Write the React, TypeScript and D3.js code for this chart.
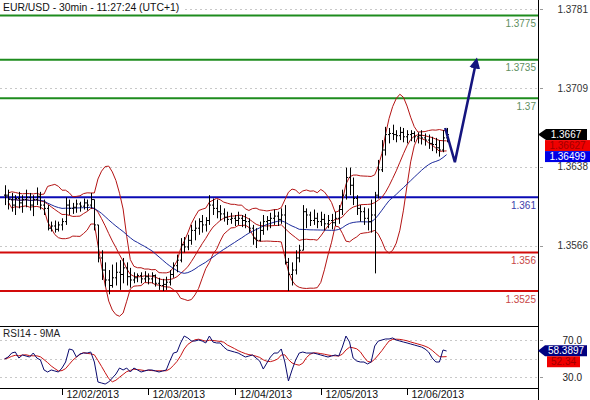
import React from 'react';
import * as d3 from 'd3';

// ---------- data ----------
const highs = [
  1.3621, 1.3617, 1.3614, 1.3612, 1.3615, 1.3612, 1.3617, 1.3614, 1.3612, 1.3619,
  1.3615, 1.3608, 1.3603, 1.3588, 1.3589, 1.3588, 1.3591, 1.3610, 1.3608, 1.3605,
  1.3608, 1.3606, 1.3609, 1.3608, 1.3614, 1.3608, 1.3585, 1.3562, 1.3551, 1.3544,
  1.3549, 1.3551, 1.3553, 1.3555, 1.3551, 1.3546, 1.3542, 1.3541, 1.3542, 1.3543,
  1.3541, 1.3542, 1.3540, 1.3537, 1.3536, 1.3538, 1.3544, 1.3551, 1.3558, 1.3573,
  1.3574, 1.3576, 1.3585, 1.3589, 1.3591, 1.3594, 1.3592, 1.3612, 1.3609, 1.3608,
  1.3603, 1.3600, 1.3597, 1.3596, 1.3594, 1.3597, 1.3594, 1.3595, 1.3591, 1.3585,
  1.3582, 1.3588, 1.3594, 1.3593, 1.3596, 1.3599, 1.3597, 1.3600, 1.3603, 1.3555,
  1.3551, 1.3562, 1.3567, 1.3603, 1.3600, 1.3597, 1.3599, 1.3596, 1.3597, 1.3595,
  1.3594, 1.3595, 1.3597, 1.3603, 1.3617, 1.3637, 1.3637, 1.3628, 1.3612, 1.3603,
  1.3601, 1.3600, 1.3608, 1.3615, 1.3644, 1.3662, 1.3674, 1.3673, 1.3676, 1.3671,
  1.3674, 1.3673, 1.3671, 1.3671, 1.3670, 1.3669, 1.3671, 1.3668, 1.3667, 1.3665,
  1.3664, 1.3662, 1.3671, 1.3673,
];
const lows = [
  1.3603, 1.3599, 1.3597, 1.3594, 1.3600, 1.3596, 1.3601, 1.3598, 1.3593, 1.3603,
  1.3599, 1.3594, 1.3580, 1.3579, 1.3578, 1.3579, 1.3580, 1.3585, 1.3594, 1.3595,
  1.3596, 1.3597, 1.3599, 1.3598, 1.3600, 1.3580, 1.3551, 1.3535, 1.3529, 1.3522,
  1.3528, 1.3530, 1.3526, 1.3532, 1.3530, 1.3528, 1.3532, 1.3533, 1.3532, 1.3533,
  1.3531, 1.3532, 1.3529, 1.3526, 1.3525, 1.3526, 1.3530, 1.3537, 1.3542, 1.3551,
  1.3560, 1.3562, 1.3567, 1.3571, 1.3576, 1.3578, 1.3579, 1.3585, 1.3594, 1.3591,
  1.3589, 1.3588, 1.3585, 1.3586, 1.3584, 1.3585, 1.3583, 1.3582, 1.3578, 1.3567,
  1.3564, 1.3570, 1.3576, 1.3580, 1.3582, 1.3585, 1.3584, 1.3586, 1.3549, 1.3525,
  1.3530, 1.3540, 1.3551, 1.3562, 1.3582, 1.3584, 1.3585, 1.3582, 1.3584, 1.3580,
  1.3582, 1.3581, 1.3584, 1.3586, 1.3594, 1.3608, 1.3612, 1.3603, 1.3594, 1.3588,
  1.3585, 1.3580, 1.3578, 1.3541, 1.3609, 1.3633, 1.3648, 1.3659, 1.3662, 1.3660,
  1.3662, 1.3660, 1.3659, 1.3661, 1.3660, 1.3659, 1.3658, 1.3657, 1.3654, 1.3652,
  1.3650, 1.3647, 1.3651, 1.3660,
];
const closes = [
  1.3612, 1.3608, 1.3603, 1.3609, 1.3605, 1.3608, 1.3610, 1.3603, 1.3608, 1.3611,
  1.3603, 1.3600, 1.3582, 1.3584, 1.3581, 1.3585, 1.3588, 1.3603, 1.3600, 1.3601,
  1.3604, 1.3602, 1.3605, 1.3603, 1.3608, 1.3585, 1.3555, 1.3544, 1.3535, 1.3530,
  1.3537, 1.3542, 1.3540, 1.3546, 1.3538, 1.3535, 1.3537, 1.3539, 1.3536, 1.3538,
  1.3536, 1.3539, 1.3532, 1.3530, 1.3531, 1.3533, 1.3540, 1.3548, 1.3553, 1.3567,
  1.3565, 1.3571, 1.3580, 1.3582, 1.3588, 1.3585, 1.3589, 1.3603, 1.3600, 1.3597,
  1.3595, 1.3592, 1.3590, 1.3591, 1.3589, 1.3591, 1.3589, 1.3588, 1.3582, 1.3573,
  1.3571, 1.3580, 1.3588, 1.3589, 1.3591, 1.3593, 1.3590, 1.3594, 1.3551, 1.3540,
  1.3544, 1.3555, 1.3562, 1.3597, 1.3594, 1.3589, 1.3591, 1.3588, 1.3590, 1.3586,
  1.3589, 1.3587, 1.3591, 1.3599, 1.3612, 1.3628, 1.3621, 1.3609, 1.3600, 1.3597,
  1.3591, 1.3588, 1.3594, 1.3612, 1.3635, 1.3653, 1.3667, 1.3668, 1.3667, 1.3666,
  1.3669, 1.3665, 1.3667, 1.3668, 1.3665, 1.3666, 1.3664, 1.3662, 1.3659, 1.3658,
  1.3655, 1.3653, 1.3664, 1.3667,
];

// RSI(14) values read per bar
const rsiValues = [
  49.5, 51.6, 55.9, 57.0, 50.5, 53.8, 52.7, 51.6, 55.9, 50.5,
  48.4, 37.6, 35.4, 37.6, 36.5, 35.4, 39.7, 46.2, 60.3, 59.2,
  51.6, 54.9, 55.9, 55.9, 57.0, 46.2, 24.6, 23.5, 22.4, 24.6,
  28.9, 33.2, 39.7, 37.6, 39.7, 35.4, 39.7, 37.6, 35.4, 36.5,
  37.6, 37.6, 36.5, 35.4, 36.5, 37.6, 47.3, 55.9, 57.0, 66.8,
  74.3, 72.2, 68.9, 68.9, 70.0, 68.9, 66.8, 74.3, 67.8, 66.8,
  66.8, 62.4, 59.2, 58.1, 57.0, 55.9, 53.8, 51.6, 52.7, 53.8,
  50.5, 47.3, 38.6, 45.1, 51.6, 55.9, 55.9, 60.3, 46.2, 25.7,
  37.6, 48.4, 55.9, 57.0, 55.9, 55.9, 55.9, 54.9, 53.8, 52.7,
  51.6, 52.7, 53.8, 52.7, 62.4, 74.3, 67.8, 50.5, 47.3, 46.2,
  46.2, 44.1, 46.2, 63.5, 68.9, 70.0, 71.1, 71.1, 72.2, 70.0,
  68.9, 67.8, 66.8, 65.7, 64.6, 63.5, 62.4, 60.3, 57.0, 50.5,
  46.2, 46.2, 59.2, 58.1,
];

const dayLabels = ['12/02/2013', '12/03/2013', '12/04/2013', '12/05/2013', '12/06/2013'];
const dayStartIndex = [16, 40, 64, 88, 112];

const priceTicks = [1.3781, 1.3709, 1.3638, 1.3566];
const priceTickLabels = ['1.3781', '1.3709', '1.3638', '1.3566'];

const levelValues = [1.3775, 1.3735, 1.37, 1.361, 1.356, 1.3525];
const levelLabels = ['1.3775', '1.3735', '1.37', '1.361', '1.356', '1.3525'];
const levelKinds = ['res', 'res', 'res', 'pivot', 'sup', 'sup'];

// projected path: [bar index, price]
const projectionIndex = [122.6, 125.3, 131.2];
const projectionPrice = [1.3673, 1.3642, 1.3733];

const rsiTicks = [70, 30];
const rsiTickLabels = ['70.0', '30.0'];
const rsiGrid = [70, 50, 30];

const title = 'EUR/USD - 30min - 11:27:24 (UTC+1)';
const rsiTitle = 'RSI14 - 9MA';
const lastPrice = 1.3667;
const lastPriceText = '1.3667';
const bbMidText = '1.36627';
const maText = '1.36499';
const rsiValue = 58.3897;
const rsiText = '58.3897';
const rsiMaText = '52.34';

// ---------- indicators ----------
function sma(arr: number[], n: number): number[] {
  return arr.map((_, i) => d3.mean(arr.slice(Math.max(0, i - n + 1), i + 1)) as number);
}
function bollinger(arr: number[], n: number, k: number) {
  const mid: number[] = [], up: number[] = [], lo: number[] = [];
  arr.forEach((_, i) => {
    const s = arr.slice(Math.max(0, i - n + 1), i + 1);
    const m = d3.mean(s) as number;
    const sd = Math.sqrt(d3.mean(s.map((v) => (v - m) * (v - m))) as number);
    mid.push(m); up.push(m + k * sd); lo.push(m - k * sd);
  });
  return { mid, up, lo };
}

const FONT = '"Liberation Sans", Arial, sans-serif';
const AXIS_X = 538;

export default function App() {
  const x = d3.scaleLinear().domain([0, 123]).range([4.5, 446.6]);
  const y = d3.scaleLinear().domain([1.3781, 1.3525]).range([9, 291]);
  const yr = d3.scaleLinear().domain([70, 30]).range([340, 377]);

  const bb = bollinger(closes, 10, 2);
  const ma = sma(closes, 25);
  const rsiMa = sma(rsiValues, 5);

  const idx = closes.map((_, i) => i);
  const lineP = (vals: number[], from = 0) =>
    d3.line<number>().x((i) => x(i)).y((i) => y(vals[i]))(idx.slice(from)) as string;
  const lineR = (vals: number[]) =>
    d3.line<number>().x((i) => x(i)).y((i) => yr(vals[i]))(idx) as string;
  const projPath = d3
    .line<number>()
    .x((j) => x(projectionIndex[j]))
    .y((j) => y(projectionPrice[j]))(projectionIndex.map((_, j) => j)) as string;

  const levelColor: Record<string, string> = { res: '#1e8c1e', pivot: '#0a0ab4', sup: '#d20a0a' };
  const levelTextColor: Record<string, string> = { res: '#5f8f5f', pivot: '#3c3caa', sup: '#c84646' };

  const yl = y(lastPrice);
  const yrv = yr(rsiValue);

  return (
    <svg
      width={590}
      height={400}
      style={{ position: 'absolute', left: 0, top: 0, background: '#fff' }}
      fontFamily={FONT}
    >
      <defs>
        <clipPath id="mainClip">
          <rect x={0} y={0} width={AXIS_X} height={326} />
        </clipPath>
        <clipPath id="rsiClip">
          <rect x={0} y={327} width={AXIS_X} height={61} />
        </clipPath>
        <marker id="arrowHead" viewBox="0 0 10 10" refX={6} refY={5} markerWidth={4.4} markerHeight={5.6} orient="auto">
          <path d="M0,0L10,5L0,10z" fill="#15157f" />
        </marker>
      </defs>
      <rect x={0} y={0} width={590} height={400} fill="#fff" />

      {/* price grid */}
      {priceTicks.map((t, i) => (
        <g key={'pt' + i}>
          <line x1={0} x2={AXIS_X} y1={Math.round(y(t)) + 0.5} y2={Math.round(y(t)) + 0.5} stroke="#c8c8c8" strokeDasharray="2,3" />
          <line x1={AXIS_X + 2} x2={AXIS_X + 5} y1={Math.round(y(t)) + 0.5} y2={Math.round(y(t)) + 0.5} stroke="#999" />
          <text x={588} y={y(t) + 3.5} fontSize={10} textAnchor="end" fill="#333">{priceTickLabels[i]}</text>
        </g>
      ))}

      {/* title */}
      <rect x={0} y={0} width={183} height={13} fill="#fff" />
      <text x={3} y={11} fontSize={10.4} fill="#111">{title}</text>

      {/* levels */}
      {levelValues.map((v, i) => (
        <g key={'lv' + i}>
          <line x1={0} x2={AXIS_X} y1={y(v)} y2={y(v)} stroke={levelColor[levelKinds[i]]} strokeWidth={2} />
          <text x={536} y={y(v) + 11.5} fontSize={10} textAnchor="end" fill={levelTextColor[levelKinds[i]]}>{levelLabels[i]}</text>
        </g>
      ))}

      <g clipPath="url(#mainClip)">
        {/* Bollinger bands */}
        <path d={lineP(bb.up, 1)} fill="none" stroke="#b41414" strokeWidth={1} />
        <path d={lineP(bb.mid)} fill="none" stroke="#b41414" strokeWidth={1} />
        <path d={lineP(bb.lo, 1)} fill="none" stroke="#b41414" strokeWidth={1} />
        {/* moving average */}
        <path d={lineP(ma)} fill="none" stroke="#1c2a9c" strokeWidth={1} />

        {/* OHLC bars */}
        {closes.map((c, i) => {
          const xi = Math.round(x(i)) + 0.5;
          const o = i === 0 ? c : closes[i - 1];
          return (
            <g key={'b' + i} stroke="#000" strokeWidth={1}>
              <line x1={xi} x2={xi} y1={y(highs[i])} y2={y(lows[i])} />
              <line x1={xi - 1.5} x2={xi} y1={y(o)} y2={y(o)} />
              <line x1={xi} x2={xi + 1.5} y1={y(c)} y2={y(c)} />
            </g>
          );
        })}

        {/* projection arrow */}
        <path d={projPath} fill="none" stroke="#15157f" strokeWidth={2.5} strokeLinejoin="miter" markerEnd="url(#arrowHead)" />
      </g>

      {/* panel borders */}
      <line x1={0} x2={AXIS_X} y1={326.5} y2={326.5} stroke="#000" />
      <line x1={0} x2={AXIS_X} y1={388.5} y2={388.5} stroke="#000" />
      <line x1={AXIS_X + 0.5} x2={AXIS_X + 0.5} y1={0} y2={400} stroke="#000" />

      {/* RSI panel */}
      {rsiGrid.map((t, i) => (
        <line key={'rg' + i} x1={0} x2={AXIS_X} y1={Math.round(yr(t)) + 0.5} y2={Math.round(yr(t)) + 0.5} stroke="#c8c8c8" strokeDasharray="2,3" />
      ))}
      {rsiTicks.map((t, i) => (
        <g key={'rt' + i}>
          <line x1={AXIS_X + 2} x2={AXIS_X + 5} y1={Math.round(yr(t)) + 0.5} y2={Math.round(yr(t)) + 0.5} stroke="#999" />
          <text x={582} y={yr(t) + 3.5} fontSize={10} textAnchor="end" fill="#222">{rsiTickLabels[i]}</text>
        </g>
      ))}
      <g clipPath="url(#rsiClip)">
        <path d={lineR(rsiMa)} fill="none" stroke="#c81414" strokeWidth={1} />
        <path d={lineR(rsiValues)} fill="none" stroke="#0a0a6e" strokeWidth={1} />
      </g>
      <text x={3} y={337} fontSize={10} fill="#222">{rsiTitle}</text>

      {/* date axis */}
      {dayStartIndex.map((d, i) => {
        const xi = Math.round(x(d)) + 0.5;
        return (
          <g key={'d' + i}>
            <line x1={xi} x2={xi} y1={388} y2={395} stroke="#000" />
            <text x={xi + 4} y={397.5} fontSize={10.5} fill="#111">{dayLabels[i]}</text>
          </g>
        );
      })}

      {/* value boxes, main panel */}
      <path d={`M${AXIS_X},${yl} L${546},${yl - 5.5} L587,${yl - 5.5} L587,${yl + 5.5} L546,${yl + 5.5} Z`} fill="#000" />
      <text x={566} y={yl + 3.6} fontSize={10} textAnchor="middle" fill="#fff">{lastPriceText}</text>
      <rect x={545} y={yl + 5.5} width={45} height={11} fill="#f00000" />
      <text x={567.5} y={yl + 14.6} fontSize={10} textAnchor="middle" fill="#a00000">{bbMidText}</text>
      <rect x={545} y={yl + 16.5} width={45} height={11} fill="#0000e6" />
      <text x={567.5} y={yl + 25.6} fontSize={10} textAnchor="middle" fill="#fff">{maText}</text>

      {/* value boxes, RSI panel */}
      <path d={`M${AXIS_X},${yrv} L${545},${yrv - 5.5} L587,${yrv - 5.5} L587,${yrv + 5.5} L545,${yrv + 5.5} Z`} fill="#000080" />
      <text x={566} y={yrv + 3.6} fontSize={10} textAnchor="middle" fill="#fff">{rsiText}</text>
      <rect x={547} y={yrv + 5.5} width={33} height={11} fill="#f00000" />
      <text x={563.5} y={yrv + 14.6} fontSize={10} textAnchor="middle" fill="#a00000">{rsiMaText}</text>
    </svg>
  );
}
